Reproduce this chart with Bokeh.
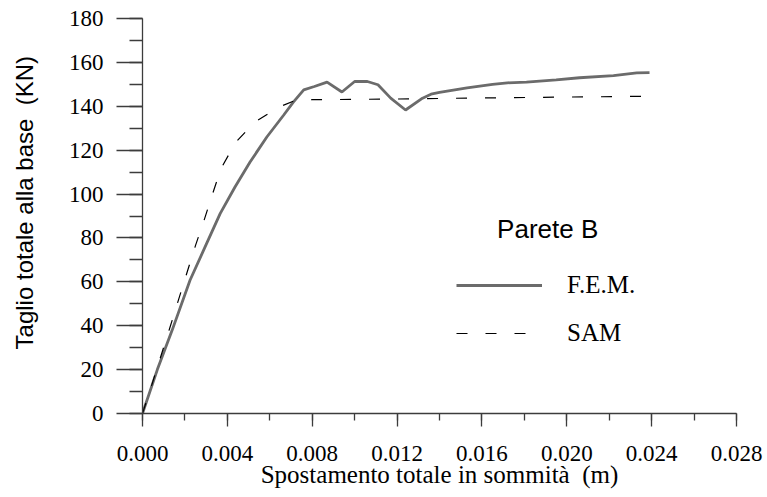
from bokeh.plotting import figure
from bokeh.models import (Range1d, SingleIntervalTicker, PrintfTickFormatter,
                          Legend, LegendItem, Label)
from bokeh.embed import file_html
from bokeh.resources import INLINE

# ---- data ----
fem_x = [0.0, 0.0007, 0.0014, 0.00224, 0.00295, 0.00366, 0.00436, 0.00507,
         0.00586, 0.00664, 0.00711, 0.0076, 0.0081, 0.0087, 0.0094, 0.0100,
         0.0106, 0.0111, 0.0117, 0.0124, 0.0132, 0.0136, 0.0140, 0.0153,
         0.0165, 0.0172, 0.0181, 0.0195, 0.0206, 0.0222, 0.0233, 0.0239]
fem_y = [0.0, 20.0, 38.0, 60.7, 75.9, 91.1, 103.2, 114.6,
         126.0, 135.8, 141.9, 147.5, 149.0, 151.0, 146.5, 151.3,
         151.3, 149.8, 143.7, 138.3, 143.7, 145.5, 146.3, 148.4,
         150.0, 150.7, 151.0, 152.0, 153.0, 154.0, 155.2, 155.3]

sam_x = [0.0, 0.00045, 0.0013, 0.00208, 0.0025, 0.0029, 0.0033, 0.0037,
         0.0044, 0.0053, 0.0064, 0.0072, 0.0080, 0.0120, 0.0160, 0.0200, 0.0243]
sam_y = [0.0, 13.4, 39.4, 63.7, 76.6, 88.0, 100.0, 111.6,
         123.7, 132.8, 139.5, 142.7, 143.0, 143.3, 143.8, 144.2, 144.6]

series_names = ["F.E.M.", "SAM"]
chart_title = "Parete B"
x_label = "Spostamento totale in sommità\u00a0 (m)"
# leading non-breaking spaces nudge the centred title upward, as in the reference
y_label = "\u00a0\u00a0\u00a0\u00a0Taglio totale alla base\u00a0 (KN)"

SERIF = "Liberation Serif"
SANS = "Liberation Sans"

p = figure(width=767, height=497, output_backend="svg", toolbar_location=None,
           x_range=Range1d(0, 0.028), y_range=Range1d(0, 180),
           min_border_left=142, min_border_right=31, min_border_top=18,
           min_border_bottom=84)
p.outline_line_color = None
p.xgrid.visible = False
p.ygrid.visible = False
p.background_fill_color = "white"
p.border_fill_color = "white"

fem = p.line(fem_x, fem_y, line_color="#6b6b6b", line_width=2.8)
sam = p.line(sam_x, sam_y, line_color="black", line_width=1.2, line_dash="11 18")

axis_col = "#3c3c3c"
xa = p.xaxis[0]
xa.ticker = SingleIntervalTicker(interval=0.004, num_minor_ticks=2)
xa.formatter = PrintfTickFormatter(format="%.3f")
xa.axis_line_color = axis_col
xa.axis_line_width = 1.3
xa.major_tick_line_color = axis_col
xa.minor_tick_line_color = axis_col
xa.major_tick_line_width = 1.3
xa.minor_tick_line_width = 1.3
xa.major_tick_in = 0
xa.major_tick_out = 13
xa.minor_tick_in = 0
xa.minor_tick_out = 7
xa.major_label_text_font = SERIF
xa.major_label_text_font_size = "23px"
xa.major_label_text_color = "black"
xa.major_label_standoff = 19
xa.axis_label = x_label
xa.axis_label_text_font = SERIF
xa.axis_label_text_font_size = "25px"
xa.axis_label_text_font_style = "normal"
xa.axis_label_text_color = "black"
xa.axis_label_standoff = -3

ya = p.yaxis[0]
ya.ticker = SingleIntervalTicker(interval=20, num_minor_ticks=2)
ya.axis_line_color = axis_col
ya.axis_line_width = 1.3
ya.major_tick_line_color = axis_col
ya.minor_tick_line_color = axis_col
ya.major_tick_line_width = 1.3
ya.minor_tick_line_width = 1.3
ya.major_tick_in = 0
ya.major_tick_out = 26
ya.minor_tick_in = 0
ya.minor_tick_out = 13
ya.major_label_text_font = SERIF
ya.major_label_text_font_size = "23px"
ya.major_label_text_color = "black"
ya.major_label_standoff = 13
ya.axis_label = y_label
ya.axis_label_text_font = SANS
ya.axis_label_text_font_size = "24px"
ya.axis_label_text_font_style = "normal"
ya.axis_label_text_color = "black"
ya.axis_label_standoff = 28

legend = Legend(items=[LegendItem(label=series_names[0], renderers=[fem]),
                       LegendItem(label=series_names[1], renderers=[sam])],
                location=(314, 66), orientation="vertical",
                glyph_width=86, glyph_height=24, label_height=24,
                label_standoff=25, spacing=20, padding=0, margin=0,
                border_line_color=None, background_fill_alpha=0,
                label_text_font=SERIF, label_text_font_size="25px",
                label_text_color="black")
p.add_layout(legend)

p.add_layout(Label(x=0.0191, y=84, text=chart_title, text_font=SANS,
                   text_font_size="26px", text_align="center",
                   text_baseline="middle", text_color="black"))

open("out.html", "w").write(file_html(p, INLINE))
